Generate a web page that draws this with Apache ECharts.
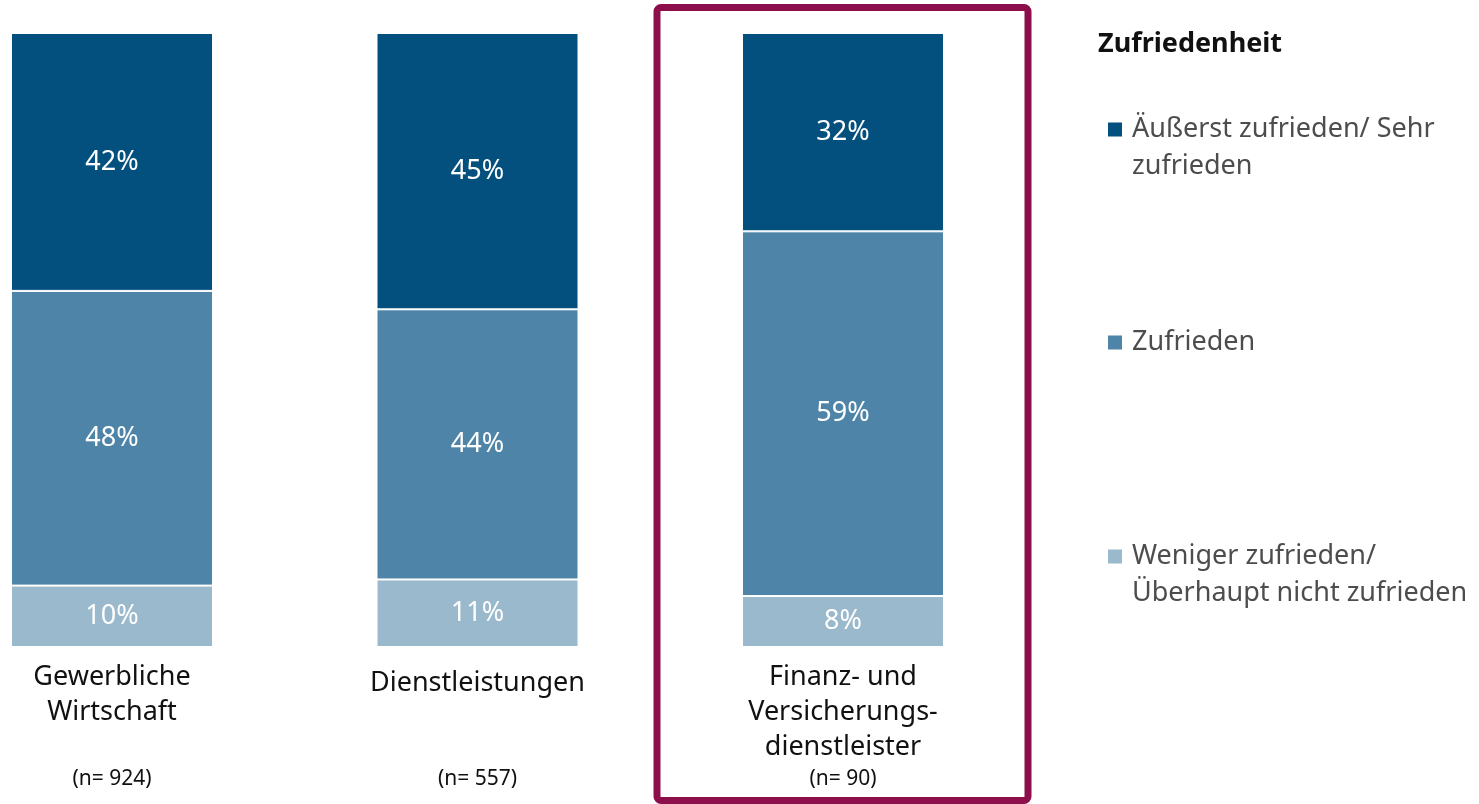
<!DOCTYPE html>
<html>
<head>
<meta charset="utf-8">
<script src="https://cdn.jsdelivr.net/npm/echarts@6/dist/echarts.min.js"></script>
<style>
  html, body { margin: 0; padding: 0; background: #fff; }
  #chart { width: 1479px; height: 804px; }
</style>
</head>
<body>
<div id="chart"></div>
<script>
  // Daten
  const categories = ['Gewerbliche\nWirtschaft', 'Dienstleistungen', 'Finanz- und\nVersicherungs-\ndienstleister'];
  const nLabels = ['(n= 924)', '(n= 557)', '(n= 90)'];
  const seriesNames = ['Äußerst zufrieden/ Sehr\nzufrieden', 'Zufrieden', 'Weniger zufrieden/\nÜberhaupt nicht zufrieden'];
  const weniger = [10, 11, 8.3];
  const zufrieden = [48, 44, 59.4];
  const sehr = [42, 45, 32.3];

  const FONT = '"Noto Sans", sans-serif';
  const colors = {
    sehr: '#034f7e',
    zufrieden: '#4e84a8',
    weniger: '#9ab9cc'
  };

  // Legenden-Icons: Quadrat oben, Box etwas größer (Abstand zum Text, erste Zeile)
  const ICON_TWO = 'path://M0,0h14v14h-14zM18.99,51h0.01';
  const ICON_ONE = 'path://M0,0h14v14h-14zM18.99,14h0.01';

  const chart = echarts.init(document.getElementById('chart'));

  function barSeries(name, data, color) {
    return {
      name: name,
      type: 'bar',
      stack: 'total',
      barWidth: 202,
      clip: false,
      data: data,
      itemStyle: { color: color, borderColor: '#fff', borderWidth: 1 },
      label: {
        show: true,
        position: 'inside',
        color: '#fff',
        fontFamily: FONT,
        fontSize: 27,
        formatter: p => Math.round(p.value) + '%'
      },
      emphasis: { disabled: true }
    };
  }

  function legendFor(name, top, twoLines) {
    return {
      show: true,
      orient: 'vertical',
      left: 1108,
      top: top,
      padding: 0,
      itemWidth: 19,
      itemHeight: twoLines ? 51 : 14,
      icon: twoLines ? ICON_TWO : ICON_ONE,
      itemStyle: { borderWidth: 0 },
      data: [name],
      textStyle: {
        fontFamily: FONT,
        fontSize: 27,
        color: '#4d4d4d',
        lineHeight: 37
      }
    };
  }

  // einzeilige Kategorie etwas tiefer setzen
  const categoryData = categories.map(c =>
    c.indexOf('\n') < 0 ? { value: c, textStyle: { lineHeight: 46 } } : c
  );

  const option = {
    backgroundColor: '#fff',
    animation: false,
    title: {
      text: 'Zufriedenheit',
      left: 1098,
      top: 31,
      padding: 0,
      textStyle: { fontFamily: FONT, fontSize: 27, fontWeight: 'bold', color: '#111' }
    },
    legend: [
      legendFor(seriesNames[0], 111, true),
      legendFor(seriesNames[1], 324, false),
      legendFor(seriesNames[2], 538, true)
    ],
    grid: { left: 112, top: 33, width: 731, height: 614 },
    xAxis: [{
      type: 'category',
      boundaryGap: false,
      data: categoryData,
      axisLine: { show: false },
      axisTick: { show: false },
      axisLabel: {
        margin: 13,
        fontFamily: FONT,
        fontSize: 27,
        lineHeight: 35,
        color: '#111',
        verticalAlign: 'top'
      }
    }, {
      type: 'category',
      boundaryGap: false,
      position: 'bottom',
      offset: 122,
      data: nLabels,
      axisLine: { show: false },
      axisTick: { show: false },
      axisLabel: {
        margin: 0,
        fontFamily: FONT,
        fontSize: 21,
        color: '#111'
      }
    }],
    yAxis: { type: 'value', min: 0, max: 100, show: false },
    series: [
      barSeries(seriesNames[2], weniger, colors.weniger),
      barSeries(seriesNames[1], zufrieden, colors.zufrieden),
      barSeries(seriesNames[0], sehr, colors.sehr)
    ]
  };

  chart.setOption(option);

  // Rahmen um die dritte Kategorie
  const cx = chart.convertToPixel({ xAxisIndex: 0 }, 2);
  chart.setOption({
    graphic: [{
      type: 'rect',
      shape: { x: cx - 186, y: 7.5, width: 371, height: 793, r: 4 },
      style: { fill: 'none', stroke: '#8c0f4b', lineWidth: 7 },
      silent: true
    }]
  });
</script>
</body>
</html>
